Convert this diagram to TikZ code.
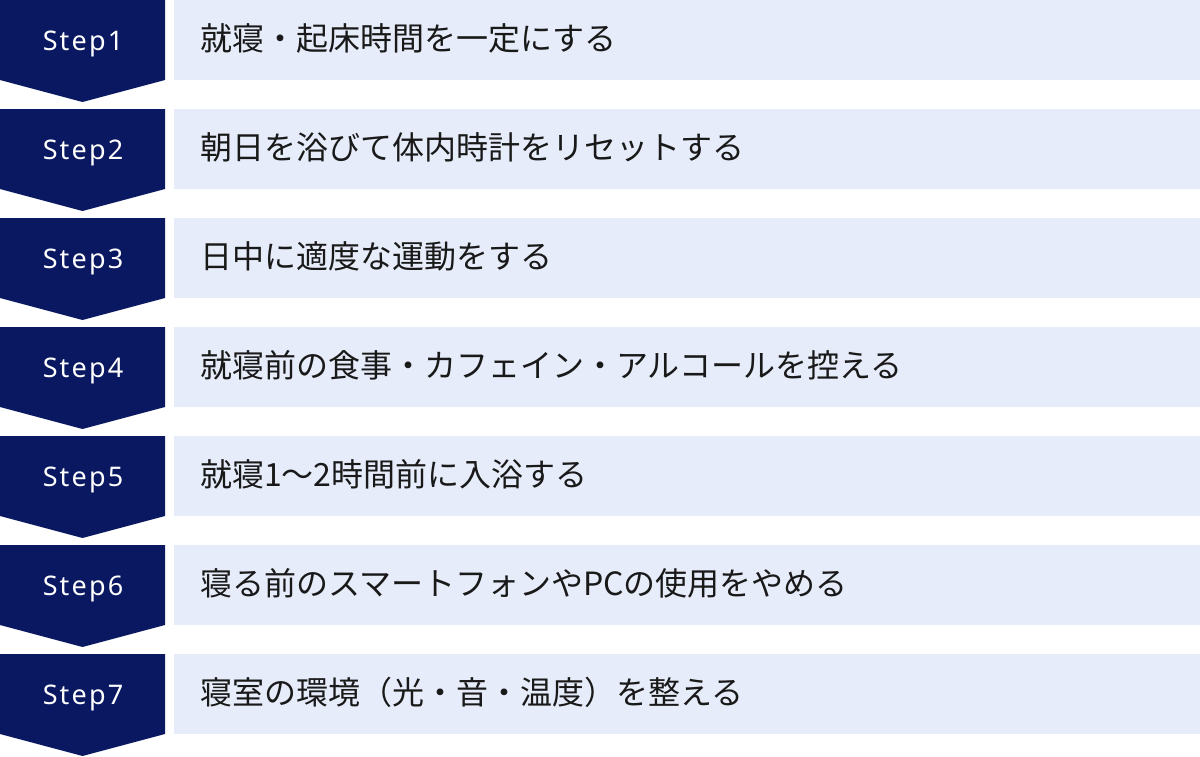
\documentclass[tikz,border=0pt]{standalone}
\usepackage{fontspec}
\setmainfont{Noto Sans CJK JP}
\newfontfamily\labelfont[LetterSpace=8]{Noto Sans}
\definecolor{navy}{RGB}{9,24,96}
\definecolor{pale}{RGB}{230,236,249}
\begin{document}
\begin{tikzpicture}[x=1pt,y=-1pt,
  stepshape/.style={fill=navy,draw=none},
  rowbox/.style={fill=pale,draw=none},
  steplabel/.style={text=white,font=\labelfont\fontsize{27}{32}\selectfont,inner sep=0pt,anchor=base},
  rowtext/.style={text=black!90,font=\fontsize{32}{38}\selectfont,inner sep=0pt,anchor=base west}]
\useasboundingbox[fill=white] (0,0) rectangle (1200,756);
\foreach \i/\t in {1/就寝・起床時間を一定にする,
                   2/朝日を浴びて体内時計をリセットする,
                   3/日中に適度な運動をする,
                   4/就寝前の食事・カフェイン・アルコールを控える,
                   5/就寝1〜2時間前に入浴する,
                   6/寝る前のスマートフォンやPCの使用をやめる,
                   7/寝室の環境（光・音・温度）を整える}{
  \pgfmathsetmacro{\top}{109*(\i-1)}
  \fill[stepshape] (0,\top) -- (165,\top) -- (165,\top+80) -- (82.5,\top+102) -- (0,\top+80) -- cycle;
  \fill[rowbox] (174,\top) rectangle (1200,\top+80);
  \node[steplabel] (s\i) at (83,\top+50) {Step\i};
  \node[rowtext] (t\i) at (200,\top+50) {\t};
}
\end{tikzpicture}
\end{document}
